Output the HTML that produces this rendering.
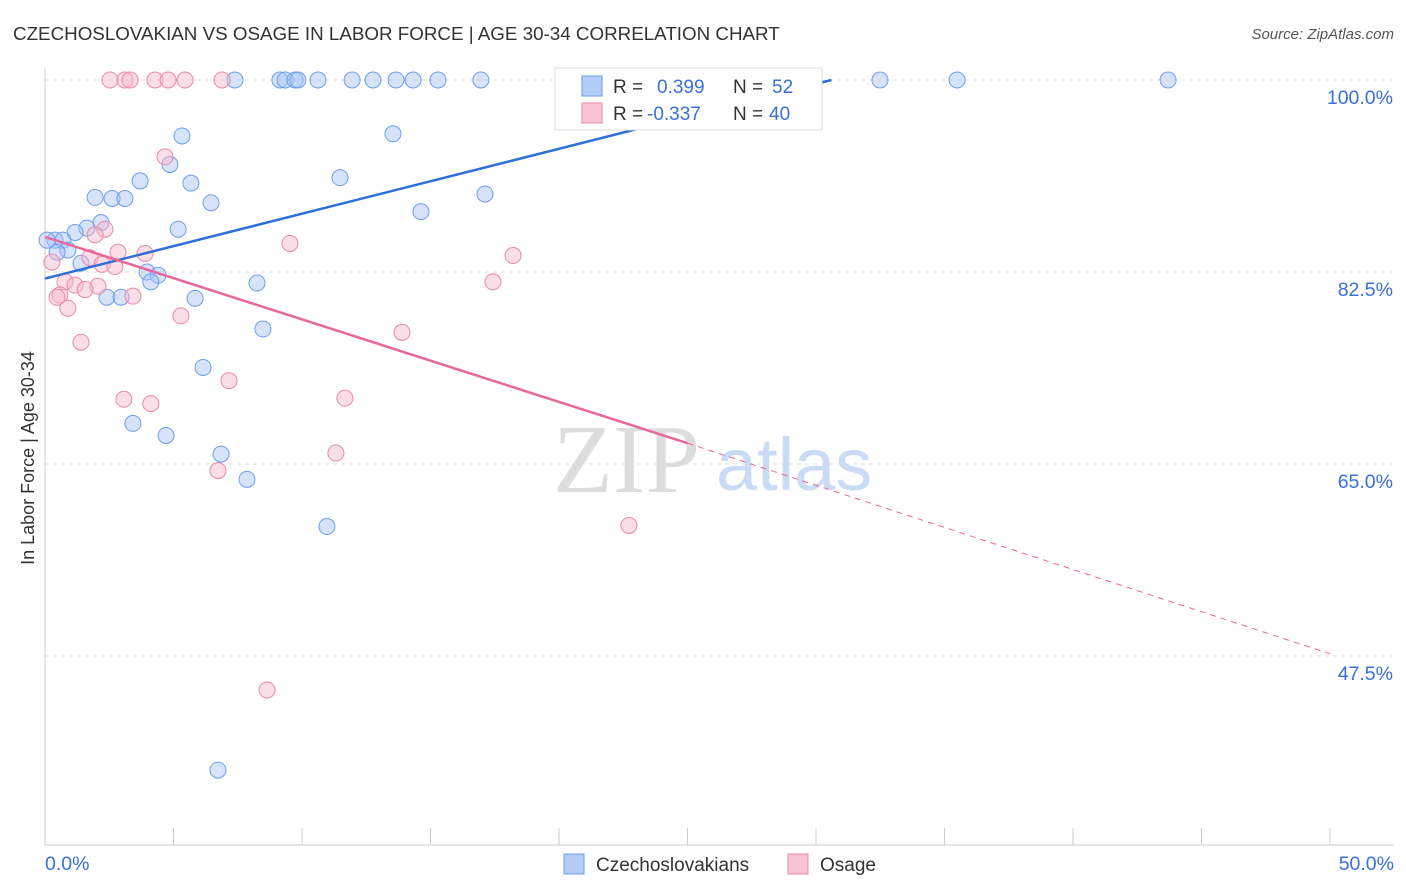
<!DOCTYPE html>
<html><head><meta charset="utf-8"><style>
body{margin:0;background:#fff;font-family:"Liberation Sans",sans-serif;}
svg{display:block}
</style></head><body>
<svg width="1406" height="892" xmlns="http://www.w3.org/2000/svg" font-family="Liberation Sans, sans-serif">
<text x="13" y="40" font-size="18.8" fill="#333">CZECHOSLOVAKIAN VS OSAGE IN LABOR FORCE | AGE 30-34 CORRELATION CHART</text>
<text x="1394" y="39" font-size="15" fill="#555" text-anchor="end" font-style="italic">Source: ZipAtlas.com</text>
<g id="grid"></g>
<text x="553" y="492" font-size="98" font-family="Liberation Serif, serif" fill="#ddd">ZIP</text>
<text x="716" y="490" font-size="74" fill="#c9dbf5">atlas</text>
<g id="pts"></g>
<g id="trend"></g>
<text transform="translate(34,458) rotate(-90)" font-size="18" fill="#333" text-anchor="middle">In Labor Force | Age 30-34</text>
<g>
<rect x="555" y="68" width="267" height="62" fill="#fff" stroke="#ddd"/>
<rect x="582" y="76" width="20" height="20" fill="#b4cdf6" stroke="#6d9eeb"/>
<rect x="582" y="103" width="20" height="20" fill="#f8c4d5" stroke="#e88aa8"/>
<text x="613" y="93" font-size="19" fill="#333">R = </text><text x="657" y="93" font-size="19" fill="#3a6fd8">0.399</text>
<text x="733" y="93" font-size="19" fill="#333">N = </text><text x="772" y="93" font-size="19" fill="#3a6fd8">52</text>
<text x="613" y="120" font-size="19" fill="#333">R = </text><text x="647" y="120" font-size="19" fill="#3a6fd8">-0.337</text>
<text x="733" y="120" font-size="19" fill="#333">N = </text><text x="769" y="120" font-size="19" fill="#3a6fd8">40</text>
</g>
<g>
<rect x="564" y="854" width="20" height="20" fill="#b4cdf6" stroke="#6d9eeb"/>
<text x="596" y="871" font-size="19" fill="#333">Czechoslovakians</text>
<rect x="788" y="854" width="20" height="20" fill="#f8c4d5" stroke="#e88aa8"/>
<text x="820" y="871" font-size="19" fill="#333">Osage</text>
</g>
</svg>
<script>
const yTicks=[100,82.5,65,47.5];
const yTickLabels=["100.0%","82.5%","65.0%","47.5%"];
const xTickLabels=["0.0%","50.0%"];
const czX=[7.39,9.14,9.34,9.73,9.84,10.62,11.95,12.76,13.66,14.32,15.29,16.96,20.51,32.49,35.49,43.70,5.33,13.54,4.86,3.70,5.68,11.48,1.95,2.61,3.11,6.46,14.63,17.12,2.18,1.63,1.17,5.18,0.39,0.70,0.08,0.89,0.47,1.40,3.97,4.40,4.12,8.25,2.41,2.96,5.84,8.48,6.15,3.42,4.71,6.85,7.86,10.97,6.73];
const czY=[100,100,100,100,100,100,100,100,100,100,100,100,100,100,100,100,94.9,95.1,92.3,90.8,90.6,91.1,89.3,89.2,89.2,88.8,88.0,89.6,87.0,86.5,86.1,86.4,85.4,85.4,85.4,84.5,84.3,83.3,82.5,82.2,81.6,81.5,80.2,80.2,80.1,77.3,73.8,68.7,67.6,65.9,63.6,59.3,37.1];
const osX=[2.53,3.11,3.31,4.28,4.79,5.45,6.89,4.67,2.33,1.95,9.53,2.84,3.89,1.75,18.21,0.27,2.22,2.72,0.78,1.17,2.06,1.56,0.58,0.47,3.42,17.43,0.89,5.29,13.89,1.40,7.16,3.07,4.12,11.67,11.32,6.73,22.72,8.64];
const osY=[100,100,100,100,100,100,100,93.0,86.4,85.9,85.1,84.3,84.2,83.8,84.0,83.4,83.2,83.0,81.6,81.3,81.2,80.9,80.4,80.2,80.3,81.6,79.2,78.5,77.0,76.1,72.6,70.9,70.5,71.0,66.0,64.4,59.4,44.4];
const czTrend=[[0,81.9],[30.6,100]];
const osTrendSolid=[[0,85.7],[25,66.9]];
const osTrendDash=[[25,66.9],[50,47.7]];
const NS="http://www.w3.org/2000/svg";
const sx=v=>45+v/50*1285, sy=v=>80+(100-v)/17.5*192;
function mk(t,a,p){const e=document.createElementNS(NS,t);for(const k in a)e.setAttribute(k,a[k]);p.appendChild(e);return e;}
const g=document.getElementById('grid');
yTicks.forEach((t,i)=>{
 const l=mk('line',{x1:45,x2:1394,y1:sy(t),y2:sy(t),stroke:'#ddd','stroke-dasharray':'4,4'},g);
 
 
 const tx=mk('text',{x:1393,y:sy(t)+24,'font-size':19.5,fill:'#3a6fd8','text-anchor':'end'},g);
 tx.textContent=yTickLabels[i];
 
 
});
const ax=mk('line',{x1:45,x2:45,y1:68,y2:845,stroke:'#ccc'},g);


const bx=mk('line',{x1:45,x2:1394,y1:845,y2:845,stroke:'#ccc'},g);


for(let i=0;i<=10;i++){const t=mk('line',{x1:sx(i*5),x2:sx(i*5),y1:828,y2:845,stroke:'#ccc'},g);
 
 }
[[0,'start',45],[50,'end',1394]].forEach((d,i)=>{const t=mk('text',{x:d[2],y:870,'font-size':19.5,fill:'#3a6fd8','text-anchor':d[1]},g);t.textContent=xTickLabels[i];
 
 });
const p=document.getElementById('pts');
czX.forEach((x,i)=>{const c=mk('circle',{cx:sx(x),cy:sy(czY[i]),r:8,fill:'rgba(164,194,244,0.45)',stroke:'#6d9eeb','stroke-width':1},p);
 
 });
osX.forEach((x,i)=>{const c=mk('circle',{cx:sx(x),cy:sy(osY[i]),r:8,fill:'rgba(247,182,203,0.45)',stroke:'#e88aa8','stroke-width':1},p);
 
 });
const tr=document.getElementById('trend');
function tl(d,col,w,dash,name){const l=mk('line',{x1:sx(d[0][0]),y1:sy(d[0][1]),x2:sx(d[1][0]),y2:sy(d[1][1]),stroke:col,'stroke-width':w},tr);if(dash)l.setAttribute('stroke-dasharray',dash);
 
 }
tl(czTrend,'#2f6fd6',2.5,null,'czechoslovakian-trendline');
tl(osTrendSolid,'#e8679a',2.5,null,'osage-trendline');
tl(osTrendDash,'#e8679a',1,'6,5','osage-trendline-extension');
</script>
</body></html>
